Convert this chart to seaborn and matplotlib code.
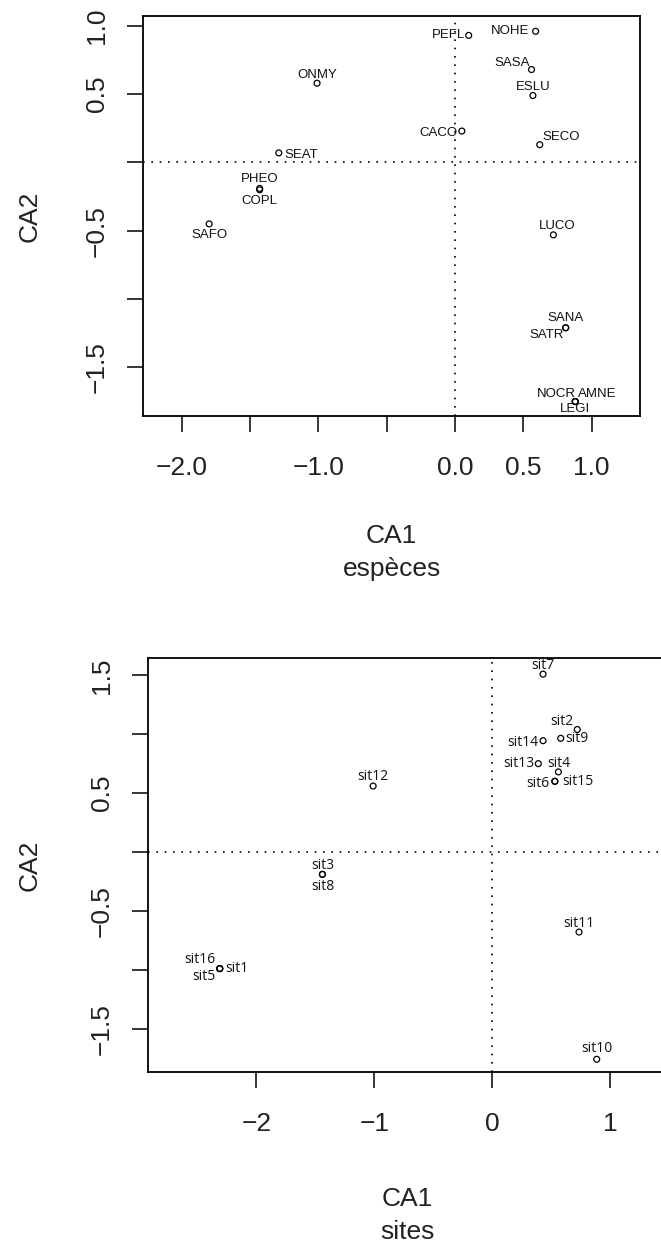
import matplotlib
matplotlib.use("Agg")
import matplotlib.pyplot as plt
import seaborn as sns
import pandas as pd

# ---- data ----
species = ["PEFL", "NOHE", "SASA", "ESLU", "ONMY", "CACO", "SECO", "SEAT",
           "PHEO", "COPL", "SAFO", "LUCO", "SANA", "SATR", "NOCR", "AMNE", "LEGI"]
sp_ca1 = [0.10, 0.59, 0.56, 0.57, -1.01, 0.05, 0.62, -1.29,
          -1.43, -1.43, -1.80, 0.72, 0.81, 0.81, 0.88, 0.88, 0.88]
sp_ca2 = [0.93, 0.96, 0.68, 0.49, 0.58, 0.23, 0.13, 0.07,
          -0.19, -0.20, -0.45, -0.53, -1.21, -1.21, -1.75, -1.75, -1.75]

sites = ["sit1", "sit2", "sit3", "sit4", "sit5", "sit6", "sit7", "sit8",
         "sit9", "sit10", "sit11", "sit12", "sit13", "sit14", "sit15", "sit16"]
si_ca1 = [-2.31, 0.72, -1.44, 0.56, -2.31, 0.53, 0.43, -1.44,
          0.58, 0.885, 0.735, -1.01, 0.39, 0.43, 0.53, -2.31]
si_ca2 = [-0.99, 1.04, -0.19, 0.68, -0.99, 0.60, 1.51, -0.19,
          0.965, -1.76, -0.68, 0.56, 0.75, 0.945, 0.60, -0.99]

sp_xticks = [-2.0, -1.5, -1.0, -0.5, 0.0, 0.5, 1.0]
sp_xticklabels = ["\u22122.0", "", "\u22121.0", "", "0.0", "0.5", "1.0"]
sp_yticks = [-1.5, -1.0, -0.5, 0.0, 0.5, 1.0]
sp_yticklabels = ["\u22121.5", "", "\u22120.5", "", "0.5", "1.0"]

si_xticks = [-2, -1, 0, 1]
si_xticklabels = ["\u22122", "\u22121", "0", "1"]
si_yticks = [-1.5, -1.0, -0.5, 0.0, 0.5, 1.0, 1.5]
si_yticklabels = ["\u22121.5", "", "\u22120.5", "", "0.5", "", "1.5"]

# ---- label placement (style: pixel offsets, alignment) ----
sp_lab = {
    "PEFL": (-4, 0, "right"), "NOHE": (-6, 0, "right"), "SASA": (-2, 7, "right"),
    "ESLU": (0, 9, "center"), "ONMY": (0, 8, "center"), "CACO": (-4, -2, "right"),
    "SECO": (3, 8, "left"), "SEAT": (6, -2, "left"), "PHEO": (0, 9, "center"),
    "COPL": (0, -11, "center"), "SAFO": (0, -11, "center"), "LUCO": (4, 9, "center"),
    "SANA": (0, 10, "center"), "SATR": (-2, -7, "right"), "NOCR": (1, 8, "right"),
    "AMNE": (3, 8, "left"), "LEGI": (0, -7, "center"),
}
si_lab = {
    "sit1": (6, 0, "left"), "sit2": (-4, 8, "right"), "sit3": (0, 9, "center"),
    "sit4": (0, 8, "center"), "sit5": (-4, -8, "right"), "sit6": (-5, -2, "right"),
    "sit7": (0, 9, "center"), "sit8": (0, -12, "center"), "sit9": (5, 0, "left"),
    "sit10": (0, 11, "center"), "sit11": (0, 9, "center"), "sit12": (0, 10, "center"),
    "sit13": (-4, 0, "right"), "sit14": (-5, -2, "right"), "sit15": (7, 0, "left"),
    "sit16": (-4, 9, "right"),
}

sns.set_style("white")
plt.rcParams["font.family"] = ["Liberation Sans", "DejaVu Sans"]
plt.rcParams["axes.unicode_minus"] = True

W, H = 661, 1249
fig = plt.figure(figsize=(W / 100, H / 100), dpi=100)


def make_axes(l, r, t, b):
    return fig.add_axes([l / W, 1 - b / H, (r - l) / W, (b - t) / H])


def style_axes(ax, xticks, xtl, yticks, ytl, xlabel, xlabpad, ylabpad):
    for s in ax.spines.values():
        s.set_visible(True)
        s.set_color("black")
        s.set_linewidth(1.3)
    ax.axhline(0, color="black", linestyle=(0, (1, 4)), linewidth=1.2, zorder=0)
    ax.axvline(0, color="black", linestyle=(0, (1, 4)), linewidth=1.2, zorder=0)
    ax.set_xticks(xticks)
    ax.set_xticklabels(xtl, fontsize=19)
    ax.set_yticks(yticks)
    ax.set_yticklabels(ytl, fontsize=19, rotation=90, va="center")
    ax.tick_params(axis="both", direction="out", length=11.5, width=1.1,
                   color="black", labelcolor="#222222",
                   bottom=True, left=True)
    ax.tick_params(axis="x", pad=17.5)
    ax.tick_params(axis="y", pad=13)
    ax.set_xlabel(xlabel, fontsize=19, color="#222222", labelpad=xlabpad,
                  linespacing=1.45)
    ax.set_ylabel("CA2", fontsize=19, color="#222222", labelpad=ylabpad)


def draw_points(ax, names, x, y, lab, fsize, family):
    df = pd.DataFrame({"name": names, "CA1": x, "CA2": y})
    sns.scatterplot(data=df, x="CA1", y="CA2", ax=ax, marker="o", s=18,
                    facecolors="none", edgecolor="black", linewidth=0.9,
                    legend=False, zorder=3)
    for c in ax.collections:
        c.set_facecolor("none")
    for n, xi, yi in zip(names, x, y):
        dx, dy, ha = lab[n]
        ax.annotate(n, (xi, yi), xytext=(dx, dy), textcoords="offset pixels",
                    ha=ha, va="center", fontsize=fsize, color="#111111",
                    family=family, annotation_clip=False)


# ---- top: species ----
ax1 = make_axes(143, 640, 16, 416)
draw_points(ax1, species, sp_ca1, sp_ca2, sp_lab, 9.5, ["Liberation Sans", "DejaVu Sans"])
ax1.set_xlim(-2.284, 1.354)
ax1.set_ylim(-1.856, 1.072)
style_axes(ax1, sp_xticks, sp_xticklabels, sp_yticks, sp_yticklabels,
           "CA1\nespèces", 31.5, 31.5)

# ---- bottom: sites ----
ax2 = make_axes(148, 666, 658, 1072)
draw_points(ax2, sites, si_ca1, si_ca2, si_lab, 10, ["Open Sans", "DejaVu Sans"])
ax2.set_xlim(-2.918, 1.472)
ax2.set_ylim(-1.868, 1.647)
style_axes(ax2, si_xticks, si_xticklabels, si_yticks, si_yticklabels,
           "CA1\nsites", 36.5, 35)

fig.savefig("out.png", dpi=100)
